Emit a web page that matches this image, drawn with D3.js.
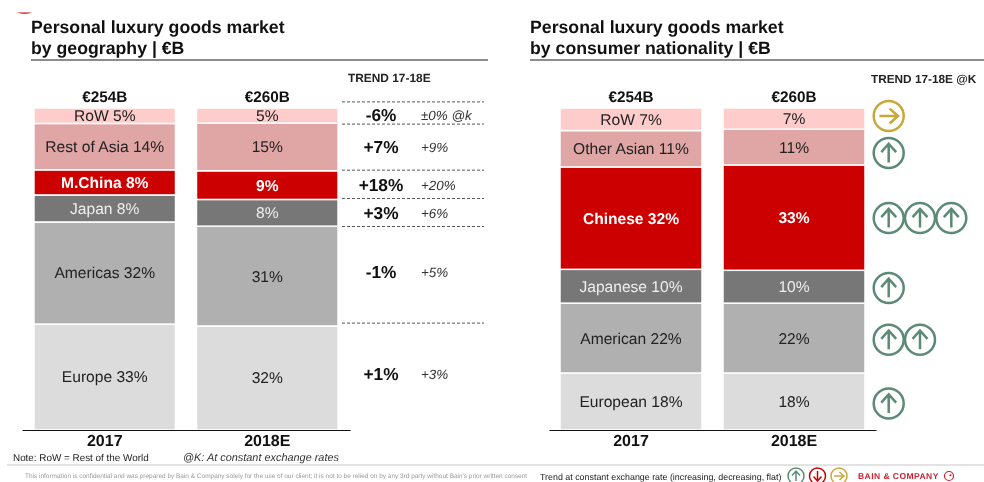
<!DOCTYPE html>
<html>
<head>
<meta charset="utf-8">
<script src="https://cdn.jsdelivr.net/npm/d3@7"></script>
<style>
    html, body { margin: 0; padding: 0; background: #fff; }
    svg { display: block; filter: blur(0.45px); }
    text { font-family: "Liberation Sans", Arial, sans-serif; text-rendering: geometricPrecision; }
</style>
</head>
<body>
<div id="chart"></div>
<script>
const width = 984;
const height = 482;

const years = ["2017", "2018E"];
const totals = ["€254B", "€260B"];

// bottom of the stack first, shares in %
const geoKeys = ["Europe", "Americas", "Japan", "M.China", "Rest of Asia", "RoW"];
const geo2017 = [32.9, 31.7, 8.4, 7.8, 14.4, 4.8];
const geo2018 = [32.3, 31.0, 8.3, 8.9, 14.8, 4.7];
const geoLabels2017 = ["Europe 33%", "Americas 32%", "Japan 8%", "M.China 8%", "Rest of Asia 14%", "RoW 5%"];
const geoLabels2018 = ["32%", "31%", "8%", "9%", "15%", "5%"];
const geoTrend = ["+1%", "-1%", "+3%", "+18%", "+7%", "-6%"];
const geoTrendK = ["+3%", "+5%", "+6%", "+20%", "+9%", "±0% @k"];

const natKeys = ["European", "American", "Japanese", "Chinese", "Other Asian", "RoW"];
const nat2017 = [17.7, 21.7, 10.5, 31.8, 11.3, 7.0];
const nat2018 = [17.7, 21.7, 10.2, 32.7, 11.1, 6.6];
const natLabels2017 = ["European 18%", "American 22%", "Japanese 10%", "Chinese 32%", "Other Asian 11%", "RoW 7%"];
const natLabels2018 = ["18%", "22%", "10%", "33%", "11%", "7%"];
const natArrows = [1, 2, 1, 3, 1, 1];
const natArrowDir = ["up", "up", "up", "up", "up", "flat"];

const colors = ["#dcdcdc", "#b0b0b0", "#777777", "#cc0000", "#e0a5a5", "#ffcccc"];
const textColors = ["#222", "#222", "#eee", "#fff", "#222", "#222"];
const green = "#5b8a76", redIcon = "#cc0000", gold = "#c9a83b";

const svg = d3.select("#chart").append("svg")
    .attr("width", width)
    .attr("height", height);

const y = d3.scaleLinear().domain([0, 100]).range([430, 108]);

function arrowIcon(parent, cx, cy, r, dir, color, sw) {
    const rot = dir == "up" ? 0 : dir == "down" ? 180 : 90;
    const g = parent.append("g")
        .attr("transform", "translate(" + cx + "," + cy + ") rotate(" + rot + ")")
        .attr("fill", "none")
        .attr("stroke", color)
        .attr("stroke-width", sw);
    g.append("circle").attr("r", r);
    const a = r * 0.62;
    g.append("path").attr("d", "M0," + a + "V" + (-a) + "M" + (-a * 0.8) + "," + (-a * 0.1) + "L0," + (-a) + "L" + (a * 0.8) + "," + (-a * 0.1));
}

function drawPanel(opt) {
    const x = d3.scaleBand().domain(years).range(opt.range).paddingInner(0.129).paddingOuter(opt.outer);

    const g = svg.append("g");

    // title and rule
    g.append("text").attr("x", opt.titleX).attr("y", 33).attr("font-size", 17.7).attr("font-weight", "bold").attr("fill", "#111").text("Personal luxury goods market");
    g.append("text").attr("x", opt.titleX).attr("y", 54).attr("font-size", 17.7).attr("font-weight", "bold").attr("fill", "#111").text(opt.subtitle);
    g.append("line").attr("x1", opt.ruleX[0]).attr("x2", opt.ruleX[1]).attr("y1", 60).attr("y2", 60).attr("stroke", "#8c8c8c").attr("stroke-width", 2);

    years.forEach((yr, i) => {
        const table = [{}];
        opt.keys.forEach((k, j) => { table[0][k] = opt.values[i][j]; });
        const series = d3.stack().keys(opt.keys)(table);

        g.selectAll(null)
            .data(series)
            .enter()
            .append("rect")
            .attr("x", x(yr))
            .attr("width", x.bandwidth())
            .attr("y", d => y(d[0][1]))
            .attr("height", d => y(d[0][0]) - y(d[0][1]))
            .attr("fill", (d, j) => colors[j])
            .attr("stroke", "#fff")
            .attr("stroke-width", 1.5);

        g.selectAll(null)
            .data(series)
            .enter()
            .append("text")
            .attr("x", x(yr) + x.bandwidth() / 2)
            .attr("y", d => (y(d[0][0]) + y(d[0][1])) / 2)
            .attr("dy", "0.35em")
            .attr("text-anchor", "middle")
            .attr("font-size", 15.6)
            .attr("font-weight", (d, j) => j == 3 ? "bold" : "normal")
            .attr("fill", (d, j) => textColors[j])
            .text((d, j) => opt.labels[i][j]);

        g.append("text")
            .attr("x", x(yr) + x.bandwidth() / 2)
            .attr("y", 101.5)
            .attr("text-anchor", "middle")
            .attr("font-size", 15.3)
            .attr("font-weight", "bold")
            .attr("fill", "#111")
            .text(totals[i]);
    });

    const axis = g.append("g")
        .attr("transform", "translate(0,430)")
        .call(d3.axisBottom(x).tickSize(0).tickPadding(5));
    axis.select(".domain").attr("stroke", "#111").attr("stroke-width", 1.2);
    axis.selectAll("text")
        .attr("font-family", "Liberation Sans, Arial, sans-serif")
        .attr("font-size", 16)
        .attr("font-weight", "bold")
        .attr("fill", "#111");

    return x;
}

// left panel
drawPanel({
    range: [22, 350], outer: 0.0736, titleX: 31, ruleX: [31, 488],
    subtitle: "by geography | €B", keys: geoKeys,
    values: [geo2017, geo2018], labels: [geoLabels2017, geoLabels2018]
});

// trend column, rows sit on the bar scale
const dashEdges = [33.2, 63.2, 71.9, 80.7, 95, 101.9];
const trendRows = [17.4, 49, 67.4, 76, 87.9, 97.8];

svg.append("g").selectAll("line")
    .data(dashEdges)
    .enter()
    .append("line")
    .attr("x1", 342)
    .attr("x2", 484)
    .attr("y1", d => y(d))
    .attr("y2", d => y(d))
    .attr("stroke", "#555")
    .attr("stroke-width", 1)
    .attr("stroke-dasharray", "3,2");

svg.append("g").selectAll("text")
    .data(geoTrend)
    .enter()
    .append("text")
    .attr("x", 381)
    .attr("y", (d, i) => y(trendRows[i]))
    .attr("dy", "0.35em")
    .attr("text-anchor", "middle")
    .attr("font-size", 17.3)
    .attr("font-weight", "bold")
    .attr("fill", "#111")
    .text(d => d);

svg.append("g").selectAll("text")
    .data(geoTrendK)
    .enter()
    .append("text")
    .attr("x", 421)
    .attr("y", (d, i) => y(trendRows[i]))
    .attr("dy", "0.35em")
    .attr("font-size", 13.4)
    .attr("font-style", "italic")
    .attr("fill", "#333")
    .text(d => d);

svg.append("text").attr("x", 348).attr("y", 82).attr("font-size", 11.9).attr("font-weight", "bold").attr("fill", "#222").text("TREND 17-18E");

// right panel
drawPanel({
    range: [549, 876], outer: 0.0675, titleX: 530, ruleX: [530, 984],
    subtitle: "by consumer nationality | €B", keys: natKeys,
    values: [nat2017, nat2018], labels: [natLabels2017, natLabels2018]
});

svg.append("text").attr("x", 871).attr("y", 83).attr("font-size", 11.8).attr("font-weight", "bold").attr("fill", "#222").text("TREND 17-18E @K");

const arrowRows = [8.2, 28, 44.1, 65.8, 86, 97.5];
natArrows.forEach((n, i) => {
    d3.range(n).forEach(j => {
        arrowIcon(svg, 888.7 + j * 31.3, y(arrowRows[i]), 15, natArrowDir[i], natArrowDir[i] == "flat" ? gold : green, 2.5);
    });
});

// notes and footer
svg.append("text").attr("x", 13).attr("y", 461).attr("font-size", 9.9).attr("fill", "#222").text("Note: RoW = Rest of the World");
svg.append("text").attr("x", 183).attr("y", 461).attr("font-size", 10.9).attr("font-style", "italic").attr("fill", "#333").text("@K: At constant exchange rates");
svg.append("line").attr("x1", 7).attr("x2", 984).attr("y1", 465).attr("y2", 465).attr("stroke", "#c8c8c8").attr("stroke-width", 1);
svg.append("text").attr("x", 25).attr("y", 478).attr("font-size", 6.48).attr("fill", "#999").text("This information is confidential and was prepared by Bain & Company solely for the use of our client; it is not to be relied on by any 3rd party without Bain's prior written consent");
svg.append("text").attr("x", 540).attr("y", 480).attr("font-size", 8.9).attr("fill", "#222").text("Trend at constant exchange rate (increasing, decreasing, flat)");
arrowIcon(svg, 796, 476, 8, "up", green, 1.5);
arrowIcon(svg, 817.5, 476, 8, "down", redIcon, 1.5);
arrowIcon(svg, 839, 476, 8, "flat", gold, 1.5);
svg.append("text").attr("x", 858).attr("y", 479).attr("font-size", 8.5).attr("font-weight", "bold").attr("letter-spacing", 0.45).attr("fill", "#cc1f2e").text("BAIN & COMPANY");
svg.append("circle").attr("cx", 949).attr("cy", 476).attr("r", 4.5).attr("fill", "none").attr("stroke", "#cc1f2e").attr("stroke-width", 1.2);
svg.append("path").attr("d", "M949,476L951,473.5L951.5,476Z").attr("fill", "#cc1f2e");

// red sliver of the logo at top left
svg.append("path").attr("d", "M17,12.5Q24.5,15 32,12.5Z").attr("fill", "#cc0000");
</script>
</body>
</html>
